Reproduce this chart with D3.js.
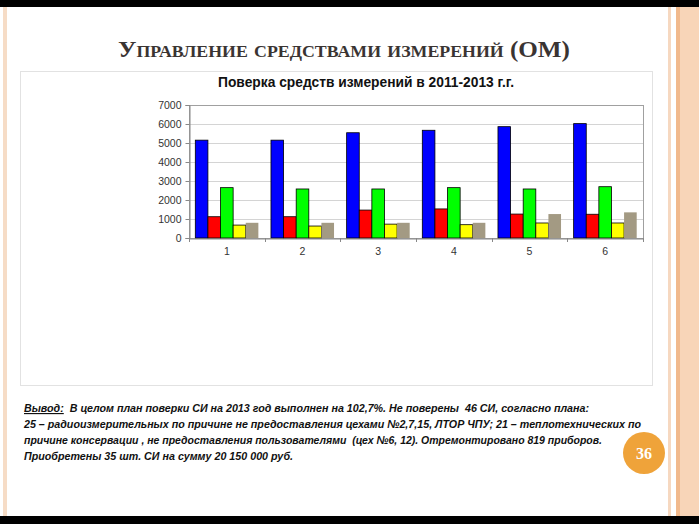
<!DOCTYPE html>
<html><head><meta charset="utf-8">
<script src="https://cdn.jsdelivr.net/npm/d3@7"></script>
<style>html,body{margin:0;padding:0;background:#fff;}svg{display:block;}text{white-space:pre;}</style>
</head><body>
<svg id="c" width="699" height="524"></svg>
<script>
const categories = ["1","2","3","4","5","6"];
const seriesBlue   = [5150, 5150, 5540, 5670, 5860, 6020];
const seriesRed    = [1120, 1120, 1470, 1530, 1260, 1250];
const seriesGreen  = [2650, 2580, 2580, 2650, 2580, 2700];
const seriesYellow = [680, 630, 730, 700, 790, 790];
const seriesTan    = [800, 800, 800, 800, 1260, 1350];
const yTicks = [0,1000,2000,3000,4000,5000,6000,7000];
const seriesColors = ["#0000ff","#ff0000","#00ff00","#ffff00","#a39a83"];
const pageTitle = "Управление средствами измерений (ОМ)";
const chartTitle = "Поверка средств измерений в 2011-2013 г.г.";
const notes = [
  "В целом план поверки СИ на 2013 год выполнен на 102,7%. Не поверены  46 СИ, согласно плана:",
  "25 – радиоизмерительных по причине не предоставления цехами №2,7,15, ЛТОР ЧПУ; 21 – теплотехнических по",
  "причине консервации , не предоставления пользователями  (цех №6, 12). Отремонтировано 819 приборов.",
  "Приобретены 35 шт. СИ на сумму 20 150 000 руб."
];
const pageNum = "36";

const series = [seriesBlue, seriesRed, seriesGreen, seriesYellow, seriesTan];
const svg = d3.select("#c");

// page frame
svg.append("rect").attr("x",0).attr("y",0).attr("width",699).attr("height",524).attr("fill","#fff");
svg.append("rect").attr("x",3).attr("y",0).attr("width",4).attr("height",524).attr("fill","#f6dcc6");
svg.append("rect").attr("x",668).attr("y",0).attr("width",3).attr("height",524).attr("fill","#f6d8c0");
svg.append("rect").attr("x",676).attr("y",0).attr("width",23).attr("height",524).attr("fill","#f8d5b8");
svg.append("rect").attr("x",676).attr("y",0).attr("width",4).attr("height",524).attr("fill","#f1b98c");
svg.append("rect").attr("x",0).attr("y",0).attr("width",699).attr("height",7).attr("fill","#000");
svg.append("rect").attr("x",0).attr("y",516).attr("width",699).attr("height",8).attr("fill","#000");

// page title
svg.append("text").attr("x",344).attr("y",57).attr("text-anchor","middle")
  .attr("font-family","'Liberation Serif','DejaVu Serif',serif").attr("font-weight","bold")
  .attr("font-size",24).attr("fill","#3a3432").style("font-variant","small-caps")
  .attr("textLength",452).attr("lengthAdjust","spacingAndGlyphs")
  .text(pageTitle);

// chart image box
svg.append("rect").attr("x",20.5).attr("y",71.5).attr("width",632).attr("height",314)
  .attr("fill","#fff").attr("stroke","#e2e2e2").attr("stroke-width",1);

svg.append("text").attr("x",366).attr("y",87).attr("text-anchor","middle")
  .attr("font-family","'Liberation Sans',Arial,sans-serif").attr("font-weight","bold")
  .attr("font-size",14).attr("fill","#111")
  .attr("textLength",296).attr("lengthAdjust","spacingAndGlyphs").text(chartTitle);

const pLeft = 189, pRight = 643, pTop = 105, pBottom = 238;
const x0 = d3.scaleBand().domain(categories).range([pLeft,pRight]).paddingInner(0).paddingOuter(0);
const x1 = d3.scaleBand().domain(d3.range(5)).range([0,x0.bandwidth()]).paddingOuter(0.5).paddingInner(0);
const y = d3.scaleLinear().domain([0,7000]).range([pBottom,pTop]);

// grid
svg.append("g").selectAll("line").data(yTicks.slice(1,-1)).join("line")
  .attr("x1",pLeft).attr("x2",pRight).attr("y1",d=>y(d)+0.5).attr("y2",d=>y(d)+0.5)
  .attr("stroke","#d4d4d4");
// plot border
svg.append("rect").attr("x",pLeft+0.5).attr("y",pTop+0.5).attr("width",pRight-pLeft).attr("height",pBottom-pTop)
  .attr("fill","none").attr("stroke","#a0a0a0");

// bars
const g = svg.append("g");
categories.forEach((c,i)=>{
  series.forEach((s,j)=>{
    g.append("rect").attr("x",x0(c)+x1(j)).attr("y",y(s[i]))
      .attr("width",x1.bandwidth()).attr("height",y(0)-y(s[i]))
      .attr("fill",seriesColors[j]).attr("stroke", j===4?"none":"#000").attr("stroke-width",0.8);
  });
});

// axes
const yAxis = d3.axisLeft(y).tickValues(yTicks).tickSize(4).tickPadding(4).tickFormat(d3.format("d"));
const ya = svg.append("g").attr("transform",`translate(${pLeft+0.5},0)`).call(yAxis);
ya.select(".domain").attr("stroke","#888");
ya.selectAll(".tick line").attr("stroke","#888");
ya.selectAll("text").attr("font-family","'Liberation Sans',Arial,sans-serif").attr("font-size",10.5).attr("fill","#333");

const xa = svg.append("g").attr("transform",`translate(0,${pBottom+0.5})`)
  .call(d3.axisBottom(x0).tickSize(0).tickPadding(9));
xa.select(".domain").attr("stroke","#888");
xa.selectAll("text").attr("font-family","'Liberation Sans',Arial,sans-serif").attr("font-size",10.5).attr("fill","#333");
svg.append("g").selectAll("line").data(categories.concat(["end"])).join("line")
  .attr("x1",(d,i)=>Math.round(pLeft+i*x0.bandwidth())+0.5).attr("x2",(d,i)=>Math.round(pLeft+i*x0.bandwidth())+0.5)
  .attr("y1",pBottom).attr("y2",pBottom+4).attr("stroke","#888");

// notes
const nf = "'Liberation Sans Narrow','Liberation Sans',Arial,sans-serif";
const t0 = svg.append("text").attr("x",24).attr("y",412).attr("font-family",nf)
  .attr("font-weight","bold").attr("font-style","italic").attr("font-size",11.5).attr("fill","#111");
t0.append("tspan").attr("text-decoration","underline").text("Вывод:");
t0.append("tspan").text("  " + notes[0]);
const lens = [565, 617, 578, 269];
t0.attr("textLength",lens[0]).attr("lengthAdjust","spacingAndGlyphs");
notes.slice(1).forEach((n,i)=>{
  svg.append("text").attr("x",24).attr("y",428+i*16).attr("font-family",nf)
    .attr("font-weight","bold").attr("font-style","italic").attr("font-size",11.5).attr("fill","#111")
    .attr("textLength",lens[i+1]).attr("lengthAdjust","spacingAndGlyphs").text(n);
});

// page number badge
svg.append("circle").attr("cx",644).attr("cy",453).attr("r",21).attr("fill","#efa33a");
svg.append("text").attr("x",644).attr("y",459).attr("text-anchor","middle")
  .attr("font-family","'Liberation Serif','DejaVu Serif',serif").attr("font-weight","bold")
  .attr("font-size",16).attr("fill","#fff").text(pageNum);
</script>
</body></html>
